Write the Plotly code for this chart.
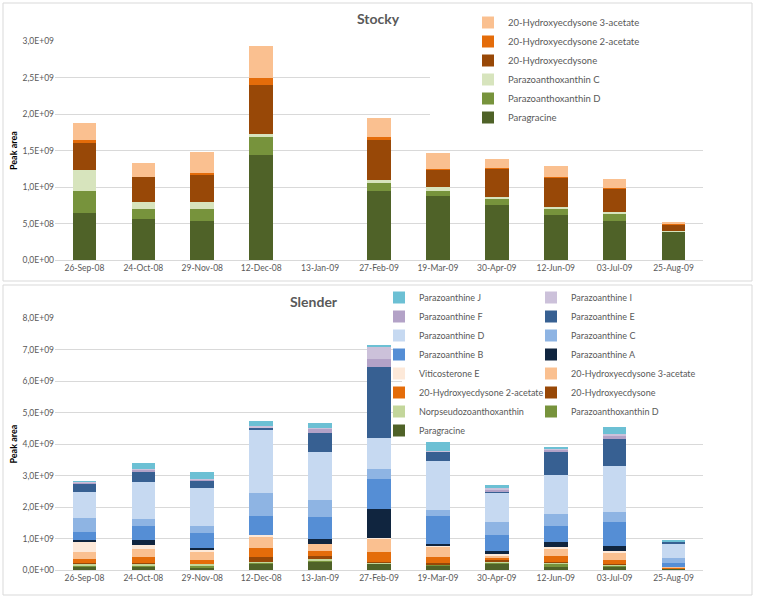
import plotly.graph_objects as go

# ---------------- data ----------------
DATES = ["26-Sep-08", "24-Oct-08", "29-Nov-08", "12-Dec-08", "13-Jan-09", "27-Feb-09",
         "19-Mar-09", "30-Apr-09", "12-Jun-09", "03-Jul-09", "25-Aug-09"]

# Stocky (peak area, units of 1E9)
ST_PARAGRACINE = [0.64, 0.567, 0.535, 1.436, None, 0.946, 0.882, 0.75, 0.613, 0.539, 0.38]
ST_PARAZOANTHOXANTHIN_D = [0.31, 0.128, 0.16, 0.256, None, 0.114, 0.068, 0.09, 0.09, 0.10, 0.005]
ST_PARAZOANTHOXANTHIN_C = [0.285, 0.105, 0.105, 0.03, None, 0.033, 0.05, 0.027, 0.023, 0.023, 0.01]
ST_HE = [0.365, 0.34, 0.375, 0.68, None, 0.56, 0.244, 0.38, 0.40, 0.315, 0.09]
ST_HE_2AC = [0.04, 0.005, 0.018, 0.10, None, 0.037, 0.01, 0.01, 0.01, 0.01, 0.005]
ST_HE_3AC = [0.24, 0.19, 0.29, 0.43, None, 0.257, 0.21, 0.13, 0.15, 0.12, 0.03]

# Slender (peak area, units of 1E9)
SL_PARAGRACINE = [0.095, 0.10, 0.085, 0.21, 0.245, 0.19, 0.13, 0.19, 0.10, 0.10, 0.03]
SL_PARAZOANTHOXANTHIN_D = [0.04, 0.03, 0.05, 0.03, 0.06, 0.02, 0.03, 0.03, 0.10, 0.03, 0.005]
SL_NORPSEUDO = [0.06, 0.07, 0.05, 0.03, 0.05, 0.02, 0.02, 0.03, 0.04, 0.03, 0.005]
SL_HE = [0.03, 0.03, 0.02, 0.15, 0.095, 0.03, 0.03, 0.085, 0.03, 0.02, 0.01]
SL_HE_2AC = [0.117, 0.18, 0.12, 0.265, 0.15, 0.32, 0.20, 0.06, 0.17, 0.15, 0.02]
SL_HE_3AC = [0.23, 0.265, 0.25, 0.36, 0.22, 0.41, 0.32, 0.07, 0.245, 0.22, 0.04]
SL_VITICOSTERONE_E = [0.31, 0.127, 0.05, 0.06, 0.02, 0.02, 0.04, 0.03, 0.04, 0.05, 0.0]
SL_PZ_A = [0.075, 0.14, 0.074, 0.02, 0.16, 0.92, 0.064, 0.096, 0.18, 0.17, 0.0]
SL_PZ_B = [0.255, 0.47, 0.49, 0.59, 0.70, 0.96, 0.89, 0.52, 0.49, 0.75, 0.127]
SL_PZ_C = [0.45, 0.21, 0.22, 0.72, 0.52, 0.31, 0.18, 0.43, 0.39, 0.31, 0.14]
SL_PZ_D = [0.82, 1.19, 1.21, 2.0, 1.53, 0.98, 1.55, 0.92, 1.22, 1.47, 0.435]
SL_PZ_E = [0.27, 0.32, 0.23, 0.07, 0.61, 2.26, 0.30, 0.02, 0.74, 0.85, 0.09]
SL_PZ_F = [0.035, 0.05, 0.02, 0.03, 0.13, 0.265, 0.01, 0.07, 0.065, 0.12, 0.005]
SL_PZ_I = [0.025, 0.02, 0.02, 0.03, 0.02, 0.38, 0.03, 0.04, 0.05, 0.04, 0.005]
SL_PZ_J = [0.005, 0.19, 0.24, 0.18, 0.17, 0.03, 0.265, 0.10, 0.05, 0.23, 0.04]

ST_TICKS = [0, 0.5e9, 1.0e9, 1.5e9, 2.0e9, 2.5e9, 3.0e9]
ST_TICK_TEXT = ["0,0E+00", "5,0E+08", "1,0E+09", "1,5E+09", "2,0E+09", "2,5E+09", "3,0E+09"]
SL_TICKS = [0, 1e9, 2e9, 3e9, 4e9, 5e9, 6e9, 7e9, 8e9]
SL_TICK_TEXT = ["0,0E+00", "1,0E+09", "2,0E+09", "3,0E+09", "4,0E+09",
                "5,0E+09", "6,0E+09", "7,0E+09", "8,0E+09"]

# ---------------- styles ----------------
COL = {
    "Paragracine": "#4F6228",
    "Parazoanthoxanthin D": "#77933C",
    "Parazoanthoxanthin C": "#D7E4BD",
    "Norpseudozoanthoxanthin": "#C3D69B",
    "20-Hydroxyecdysone": "#984807",
    "20-Hydroxyecdysone 2-acetate": "#E46C0A",
    "20-Hydroxyecdysone 3-acetate": "#FAC090",
    "Viticosterone E": "#FDE9D9",
    "Parazoanthine A": "#10253F",
    "Parazoanthine B": "#558ED5",
    "Parazoanthine C": "#8EB4E3",
    "Parazoanthine D": "#C6D9F1",
    "Parazoanthine E": "#376092",
    "Parazoanthine F": "#B3A2C7",
    "Parazoanthine I": "#CCC1DA",
    "Parazoanthine J": "#6CC0D4",
}
FONT = "Lato, 'Open Sans', sans-serif"
GRAY = "#595959"
GRID = "#D9D9D9"
W, H = 760, 600


def px_x(p):
    return p / W


def px_y(p):
    return 1 - p / H


def scale(vals):
    return [None if v is None else v * 1e9 for v in vals]


fig = go.Figure()

stocky = [
    ("Paragracine", ST_PARAGRACINE),
    ("Parazoanthoxanthin D", ST_PARAZOANTHOXANTHIN_D),
    ("Parazoanthoxanthin C", ST_PARAZOANTHOXANTHIN_C),
    ("20-Hydroxyecdysone", ST_HE),
    ("20-Hydroxyecdysone 2-acetate", ST_HE_2AC),
    ("20-Hydroxyecdysone 3-acetate", ST_HE_3AC),
]
for name, vals in stocky:
    fig.add_trace(go.Bar(x=DATES, y=scale(vals), name=name, marker_color=COL[name],
                         marker_line_width=0, xaxis="x", yaxis="y", legend="legend"))

# Slender: column 1 of legend -> legend2, column 2 -> legend3
slender = [
    ("Paragracine", SL_PARAGRACINE, "legend2"),
    ("Parazoanthoxanthin D", SL_PARAZOANTHOXANTHIN_D, "legend3"),
    ("Norpseudozoanthoxanthin", SL_NORPSEUDO, "legend2"),
    ("20-Hydroxyecdysone", SL_HE, "legend3"),
    ("20-Hydroxyecdysone 2-acetate", SL_HE_2AC, "legend2"),
    ("20-Hydroxyecdysone 3-acetate", SL_HE_3AC, "legend3"),
    ("Viticosterone E", SL_VITICOSTERONE_E, "legend2"),
    ("Parazoanthine A", SL_PZ_A, "legend3"),
    ("Parazoanthine B", SL_PZ_B, "legend2"),
    ("Parazoanthine C", SL_PZ_C, "legend3"),
    ("Parazoanthine D", SL_PZ_D, "legend2"),
    ("Parazoanthine E", SL_PZ_E, "legend3"),
    ("Parazoanthine F", SL_PZ_F, "legend2"),
    ("Parazoanthine I", SL_PZ_I, "legend3"),
    ("Parazoanthine J", SL_PZ_J, "legend2"),
]
for name, vals, leg in slender:
    fig.add_trace(go.Bar(x=DATES, y=scale(vals), name=name, marker_color=COL[name],
                         marker_line_width=0, xaxis="x2", yaxis="y2", legend=leg))

xdom = [px_x(55), px_x(703)]
tickfont = dict(family=FONT, size=8.5, color=GRAY)
legfont = dict(family=FONT, size=9.5, color=GRAY)
legfont2 = dict(family=FONT, size=9, color=GRAY)
common_x = dict(type="category", categoryorder="array", categoryarray=DATES,
                domain=xdom, showgrid=False, showline=True, linecolor=GRID,
                ticks="", tickfont=tickfont, fixedrange=True, automargin=False)
common_y = dict(showgrid=True, gridcolor=GRID, gridwidth=1, zeroline=False,
                showline=False, ticks="", tickfont=tickfont, automargin=False,
                title=dict(text="<b>Peak area</b>", font=dict(family=FONT, size=9, color="#000000"),
                           standoff=3))

fig.update_layout(
    width=W, height=H,
    margin=dict(l=0, r=0, t=0, b=0, autoexpand=False),
    paper_bgcolor="white", plot_bgcolor="white",
    barmode="stack", bargap=0.6,
    showlegend=True,
    xaxis=dict(common_x, anchor="y"),
    yaxis=dict(common_y, domain=[px_y(260), px_y(41.3)], range=[0, 3.0e9],
               tickvals=ST_TICKS, ticktext=ST_TICK_TEXT, anchor="x"),
    xaxis2=dict(common_x, anchor="y2"),
    yaxis2=dict(common_y, domain=[px_y(570), px_y(318.3)], range=[0, 8.0e9],
                tickvals=SL_TICKS, ticktext=SL_TICK_TEXT, anchor="x2"),
    legend=dict(x=px_x(468), y=px_y(8), xanchor="left", yanchor="top",
                bgcolor="rgba(0,0,0,0)", font=legfont, traceorder="reversed",
                tracegroupgap=0),
    legend2=dict(x=px_x(379), y=px_y(283), xanchor="left", yanchor="top",
                 bgcolor="rgba(0,0,0,0)", font=legfont2, traceorder="reversed",
                 tracegroupgap=0),
    legend3=dict(x=px_x(531), y=px_y(283), xanchor="left", yanchor="top",
                 bgcolor="rgba(0,0,0,0)", font=legfont2, traceorder="reversed",
                 tracegroupgap=0),
    annotations=[
        dict(text="<b>Stocky</b>", x=px_x(378), y=px_y(18), xref="paper", yref="paper",
             xanchor="center", yanchor="middle", showarrow=False,
             font=dict(family=FONT, size=14, color=GRAY)),
        dict(text="<b>Slender</b>", x=px_x(314), y=px_y(301), xref="paper", yref="paper",
             xanchor="center", yanchor="middle", showarrow=False,
             font=dict(family=FONT, size=14, color=GRAY)),
    ],
    shapes=[
        # panel frames
        dict(type="rect", xref="paper", yref="paper", x0=px_x(3), x1=px_x(752),
             y0=px_y(281), y1=px_y(3), line=dict(color=GRID, width=1), layer="below"),
        dict(type="rect", xref="paper", yref="paper", x0=px_x(3), x1=px_x(752),
             y0=px_y(595), y1=px_y(285), line=dict(color=GRID, width=1), layer="below"),
        # white backgrounds behind the legends, hiding gridlines
        dict(type="rect", xref="paper", yref="paper", x0=px_x(430), x1=px_x(704),
             y0=px_y(125), y1=px_y(36), fillcolor="white", line=dict(width=0), layer="above"),
        dict(type="rect", xref="paper", yref="paper", x0=px_x(402), x1=px_x(704),
             y0=px_y(424), y1=px_y(300), fillcolor="white", line=dict(width=0), layer="above"),
    ],
)

fig.write_html("out.html", config={"displayModeBar": False},
               post_script="document.body.style.margin='0px';")
